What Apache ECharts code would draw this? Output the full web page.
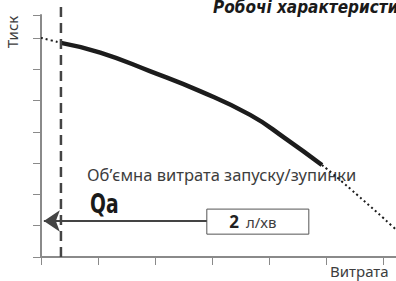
<!DOCTYPE html>
<html>
<head>
<meta charset="utf-8">
<script src="https://cdn.jsdelivr.net/npm/echarts@6/dist/echarts.min.js"></script>
<style>
  html, body { margin: 0; padding: 0; background: #fff; }
  #chart { width: 396px; height: 281px; }
</style>
</head>
<body>
<div id="chart"></div>
<script>
// Flow (x) in tick units, pressure (y) in tick units.
const curveLeftDotted = [[0, 7.0], [0.35, 6.84]];
const curveSolid = [[0.35, 6.84], [1.04, 6.53], [1.91, 5.94], [2.79, 5.3], [3.67, 4.54], [4.28, 3.8], [4.93, 2.94]];
const curveRightDotted = [[4.93, 2.94], [5.25, 2.46], [6.18, 0.96], [6.47, 0.45]];
const qaLine = [[0.35, 0], [0.35, 8.02]];
const arrowFrom = [2.91, 1.15];
const arrowTo = [0.05, 1.15];
const boxCorners = [[2.91, 0.73], [4.7, 1.53]];

const titleText = "Робочі характеристики";
const yName = "Тиск";
const xName = "Витрата";
const noteText = "Об’ємна витрата запуску/зупинки";
const qaText = "Qa";
const boxValue = "2";
const boxUnit = "л/хв";

const axisColor = "#8a8a8a";
const inkColor = "#1c1c1c";
const textColor = "#3d3d3d";
const lightFont = "'Noto Sans', 'DejaVu Sans', sans-serif";
const narrowFont = "'Liberation Sans Narrow', 'DejaVu Sans Condensed', sans-serif";

const chart = echarts.init(document.getElementById("chart"), null, { renderer: "svg" });

const axisCommon = {
  type: "value",
  min: 0,
  interval: 1,
  axisLine: { show: true, lineStyle: { color: axisColor, width: 2 } },
  axisTick: { show: true, length: 8, lineStyle: { color: axisColor, width: 1 } },
  axisLabel: { show: false },
  splitLine: { show: false },
};

const curveLine = (data, width, type) => ({
  type: "line",
  data,
  smooth: 0.5,
  showSymbol: false,
  lineStyle: { color: inkColor, width, type },
});

chart.setOption({
  animation: false,
  grid: { left: 41, right: 0, top: 15, bottom: 24 },
  xAxis: { ...axisCommon, max: 6.23 },
  yAxis: { ...axisCommon, max: 7.73 },
  series: [
    curveLine(curveLeftDotted, 2, [2, 3]),
    curveLine(curveSolid, 4.5, "solid"),
    curveLine(curveRightDotted, 2, [2, 3]),
    {
      type: "line",
      data: qaLine,
      clip: false,
      showSymbol: false,
      lineStyle: { color: "#444", width: 2.5, type: [10, 6] },
      markLine: {
        silent: true,
        symbol: ["none", "arrow"],
        symbolSize: 16,
        label: { show: false },
        lineStyle: { color: "#444", width: 2, type: "solid" },
        data: [[{ coord: arrowFrom }, { coord: arrowTo }]],
      },
      markArea: {
        silent: true,
        itemStyle: { color: "#fff", borderColor: "#555", borderWidth: 1 },
        label: {
          show: true,
          position: "inside",
          offset: [-5, 0],
          formatter: "{v|" + boxValue + "}{u|" + boxUnit + "}",
          rich: {
            v: { fontFamily: lightFont, fontWeight: "bold", fontSize: 17, color: "#222", padding: [0, 7, 0, 0] },
            u: { fontFamily: lightFont, fontSize: 15, color: textColor },
          },
        },
        data: [[{ coord: boxCorners[0] }, { coord: boxCorners[1] }]],
      },
    },
  ],
  graphic: [
    {
      type: "text",
      left: 213,
      top: -2,
      style: { text: titleText, font: "italic bold 17px " + narrowFont, fill: "#1a1a1a" },
    },
    {
      type: "text",
      x: 12,
      y: 32,
      rotation: Math.PI / 2,
      style: { text: yName, font: "15px " + lightFont, fill: textColor, textAlign: "center", textVerticalAlign: "middle" },
    },
    {
      type: "text",
      left: 330,
      top: 263,
      style: { text: xName, font: "15px " + lightFont, fill: textColor },
    },
    {
      type: "text",
      left: 87,
      top: 166,
      style: { text: noteText, font: "16.5px " + lightFont, fill: textColor },
    },
    {
      type: "text",
      x: 90,
      y: 191,
      scaleX: 0.8,
      style: { text: qaText, font: "bold 26px " + narrowFont, fill: "#1a1a1a" },
    },
  ],
});
</script>
</body>
</html>
